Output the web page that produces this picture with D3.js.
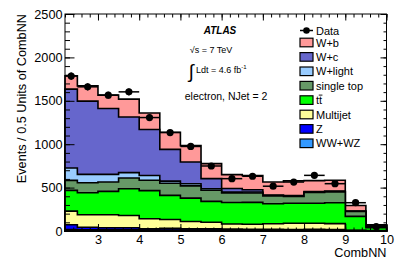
<!DOCTYPE html>
<html>
<head>
<meta charset="utf-8">
<script src="https://cdn.jsdelivr.net/npm/d3@7"></script>
<style>
  body { margin: 0; background: #fff; }
  svg { display: block; font-family: 'Liberation Sans', Arial, Helvetica, sans-serif; }
</style>
</head>
<body>
<div class="chart"></div>
<script>
// Bin edges in CombNN (first bin is cut by the axis range)
const binEdges = [2.2, 2.5, 3, 3.5, 4, 4.5, 5, 5.5, 6, 6.5, 7, 7.5, 8, 8.5, 9, 9.5, 10];

// Stacked backgrounds, bottom to top (events per bin)
const wwwz      = [17, 15, 15, 15, 12, 12, 10, 10, 8, 8, 8, 8, 8, 8, 2, 1];
const zjets     = [55, 29, 22, 22, 13, 18, 15, 14, 14, 12, 12, 10, 12, 10, 2, 1];
const multijet  = [157, 143, 150, 142, 116, 103, 85, 76, 59, 58, 63, 72, 70, 67, 4, 2];
const ttbar     = [239, 254, 269, 308, 324, 277, 269, 241, 248, 252, 231, 230, 230, 240, 160, 35];
const singleTop = [115, 115, 108, 123, 120, 140, 141, 129, 110, 107, 89, 78, 125, 125, 57, 20];
const wLight    = [142, 96, 88, 62, 55, 25, 25, 17, 11, 13, 5, 4, 5, 5, 3, 1];
const wc        = [909, 844, 759, 642, 530, 365, 250, 116, 40, 26, 7, 6, 5, 5, 3, 2];
const wb        = [154, 176, 154, 205, 190, 198, 189, 173, 160, 164, 149, 170, 125, 125, 62, 10];

// Observed data
const dataCounts = [1785, 1661, 1565, 1603, 1307, 1134, 974, 749, 603, 631, 516, 564, 641, 545, 326, 52];

// Legend names, top to bottom ('tt' gets a bar drawn over the second t)
const legendNames = ['W+b', 'W+c', 'W+light', 'single top', 'tt', 'Multijet', 'Z', 'WW+WZ'];

// Axis ticks
const yMajor = [0, 500, 1000, 1500, 2000, 2500];
const xMajor = [3, 4, 5, 6, 7, 8, 9, 10];

const width = 407, height = 276;
const margin = { top: 14, right: 20.5, bottom: 45, left: 65 };
const plotW = width - margin.left - margin.right;
const plotH = height - margin.top - margin.bottom;

const layers = [
  { name: 'WW+WZ', values: wwwz, color: '#3399ff' },
  { name: 'Z', values: zjets, color: '#0000ff' },
  { name: 'Multijet', values: multijet, color: '#ffff99' },
  { name: 'ttbar', values: ttbar, color: '#00ff00' },
  { name: 'single top', values: singleTop, color: '#669966' },
  { name: 'W+light', values: wLight, color: '#99ccff' },
  { name: 'W+c', values: wc, color: '#6666cc' },
  { name: 'W+b', values: wb, color: '#ff9999' }
];

// running sums so each layer is drawn from zero up to its cumulative height
let running = dataCounts.map(() => 0);
layers.forEach(l => {
  running = running.map((v, i) => v + l.values[i]);
  l.cum = running.slice();
});

const svg = d3.select('.chart').append('svg')
  .attr('width', width)
  .attr('height', height);

const g = svg.append('g')
  .attr('transform', 'translate(' + margin.left + ',' + margin.top + ')');

const x = d3.scaleLinear().domain([2.2, 10]).range([0, plotW]);
const y = d3.scaleLinear().domain([0, 2500]).range([plotH, 0]);

const area = d3.area()
  .x(d => x(d.x))
  .y0(y(0))
  .y1(d => y(d.v))
  .curve(d3.curveStepAfter);

// Largest cumulative first, smaller ones painted on top
layers.slice().reverse().forEach(l => {
  const pts = binEdges.map((e, i) => ({ x: e, v: l.cum[Math.min(i, l.cum.length - 1)] }));
  g.append('path')
    .datum(pts)
    .attr('d', area)
    .attr('fill', l.color)
    .attr('stroke', '#000')
    .attr('stroke-width', 1.6);
});

// Data points with error bars
const pts = dataCounts.map((n, i) => ({ lo: binEdges[i], hi: binEdges[i + 1], n: n }));
pts.forEach(d => {
  const cx = x((d.lo + d.hi) / 2);
  g.append('line')
    .attr('x1', x(d.lo)).attr('x2', x(d.hi))
    .attr('y1', y(d.n)).attr('y2', y(d.n))
    .attr('stroke', '#000').attr('stroke-width', 1.5);
  g.append('line')
    .attr('x1', cx).attr('x2', cx)
    .attr('y1', y(d.n - Math.sqrt(d.n))).attr('y2', y(d.n + Math.sqrt(d.n)))
    .attr('stroke', '#000').attr('stroke-width', 1.5);
  g.append('circle')
    .attr('cx', cx).attr('cy', y(d.n))
    .attr('r', 3.6)
    .attr('fill', '#000');
});

// Axes: ROOT style, ticks inside the frame on all four sides
const xMinor = d3.range(2.2, 10.001, 0.2).map(v => +v.toFixed(1));
const yMinor = d3.range(0, 2501, 100);

function drawAxis(axis, transform) {
  const a = g.append('g').attr('transform', transform).call(axis);
  a.select('.domain').remove();
  a.selectAll('text').attr('font-size', 12.7).attr('font-family', null).attr('fill', '#000');
  a.selectAll('line').attr('stroke', '#000');
  return a;
}

drawAxis(d3.axisBottom(x).tickValues(xMinor).tickSize(-3.5).tickFormat(''), 'translate(0,' + plotH + ')');
drawAxis(d3.axisBottom(x).tickValues(xMajor).tickSize(-7).tickPadding(4).tickFormat(d3.format('d')), 'translate(0,' + plotH + ')');
drawAxis(d3.axisTop(x).tickValues(xMinor).tickSize(-3.5).tickFormat(''), 'translate(0,0)');
drawAxis(d3.axisTop(x).tickValues(xMajor).tickSize(-6.5).tickFormat(''), 'translate(0,0)');

drawAxis(d3.axisLeft(y).tickValues(yMinor).tickSize(-5).tickFormat(''), 'translate(0,0)');
drawAxis(d3.axisLeft(y).tickValues(yMajor).tickSize(-9.5).tickPadding(2.5).tickFormat(d3.format('d')), 'translate(0,0)');
drawAxis(d3.axisRight(y).tickValues(yMinor).tickSize(-3).tickFormat(''), 'translate(' + plotW + ',0)');
drawAxis(d3.axisRight(y).tickValues(yMajor).tickSize(-6).tickFormat(''), 'translate(' + plotW + ',0)');

// frame
g.append('rect')
  .attr('width', plotW).attr('height', plotH)
  .attr('fill', 'none').attr('stroke', '#000').attr('stroke-width', 1);

// Axis titles
svg.append('text')
  .attr('x', margin.left + plotW)
  .attr('y', 257)
  .attr('text-anchor', 'end')
  .attr('font-size', 12.7)
  .text('CombNN');

svg.append('text')
  .attr('transform', 'translate(25.5,' + margin.top + ') rotate(-90)')
  .attr('text-anchor', 'end')
  .attr('font-size', 12.7)
  .text('Events / 0.5 Units of CombNN');

// ATLAS labels
svg.append('text')
  .attr('x', 220).attr('y', 34.3)
  .attr('text-anchor', 'middle')
  .attr('font-size', 10)
  .attr('font-weight', 'bold')
  .attr('font-style', 'italic')
  .text('ATLAS');

svg.append('text')
  .attr('x', 211).attr('y', 53.3)
  .attr('text-anchor', 'middle')
  .attr('font-size', 9)
  .text('\u221As = 7 TeV');

svg.append('text')
  .attr('x', 188.5).attr('y', 78)
  .attr('font-size', 19)
  .text('\u222B');

const lumi = svg.append('text')
  .attr('x', 196).attr('y', 73)
  .attr('font-size', 9);
lumi.append('tspan')
  .text('Ldt = 4.6 fb');
lumi.append('tspan')
  .attr('font-size', 6)
  .attr('dy', -4)
  .text('-1');

svg.append('text')
  .attr('x', 226).attr('y', 99.5)
  .attr('text-anchor', 'middle')
  .attr('font-size', 10.5)
  .text('electron, NJet = 2');

// Legend
const legX = 300;
const leg = svg.append('g').attr('font-size', 11);

leg.append('line')
  .attr('x1', legX).attr('x2', legX + 13)
  .attr('y1', 30.5).attr('y2', 30.5)
  .attr('stroke', '#000').attr('stroke-width', 1.5);
leg.append('circle')
  .attr('cx', legX + 6.5).attr('cy', 30.5).attr('r', 3.3)
  .attr('fill', '#000');
leg.append('text')
  .attr('x', legX + 16).attr('y', 34.5)
  .text('Data');

const legendColors = layers.slice().reverse().map(l => l.color);
legendNames.forEach((name, i) => {
  const cy = 42.5 + i * 14.4;
  leg.append('rect')
    .attr('x', legX).attr('y', cy - 4.3)
    .attr('width', 13).attr('height', 8.6)
    .attr('fill', legendColors[i])
    .attr('stroke', '#000').attr('stroke-width', 1.2);
  const t = leg.append('text')
    .attr('x', legX + 16).attr('y', cy + 4)
    .text(name);
  if (name === 'tt') {
    // bar over the antitop
    const w = t.node().getComputedTextLength();
    leg.append('line')
      .attr('x1', legX + 16 + w / 2 - 0.3).attr('x2', legX + 16 + w + 0.3)
      .attr('y1', cy - 5).attr('y2', cy - 5)
      .attr('stroke', '#000').attr('stroke-width', 0.9);
  }
});
</script>
</body>
</html>
